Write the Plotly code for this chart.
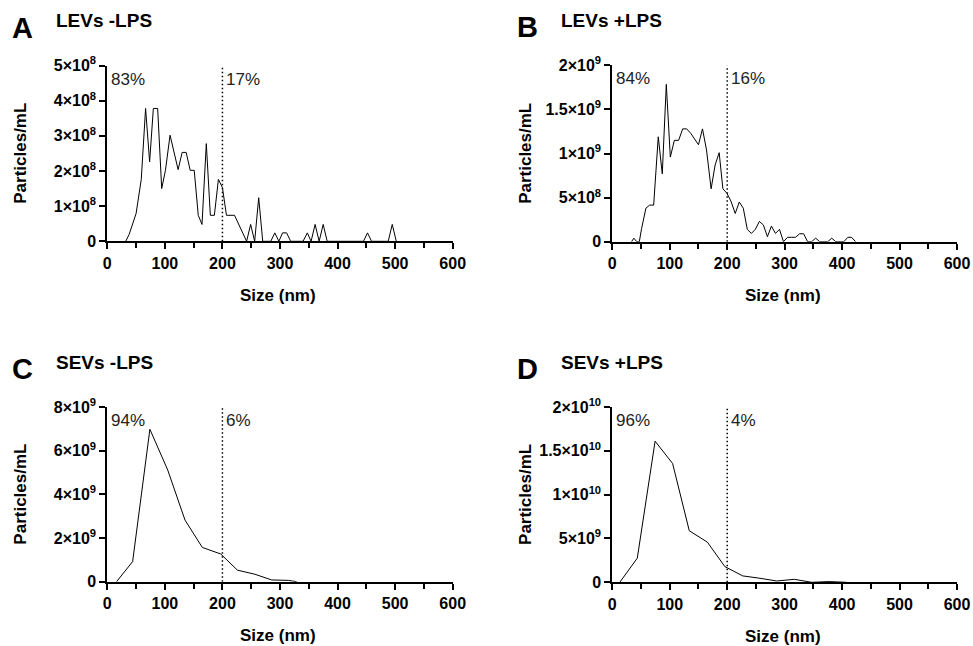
import plotly.graph_objects as go

# NTA size distributions (size in nm, particles/mL)
a_size = [32, 38, 50, 59, 66.5, 73.5, 80, 87.5, 94.5, 101, 109, 123, 130, 137, 144, 151, 158, 164.5,
          172, 179, 186, 193, 200, 207, 221, 242, 249, 256, 263, 270, 284, 291, 298, 304.5, 311.5,
          318.5, 340, 347.5, 354, 361, 368, 375, 382, 445, 452, 459, 488, 495, 502]
a_conc = [0, 0.2e8, 0.79e8, 1.76e8, 3.78e8, 2.26e8, 3.78e8, 3.78e8, 1.5e8, 2.02e8, 3.02e8, 2.04e8,
          2.53e8, 2.53e8, 2.02e8, 2.02e8, 0.74e8, 0.48e8, 2.78e8, 0.74e8, 0.74e8, 1.76e8, 1.53e8,
          0.74e8, 0.74e8, 0, 0.48e8, 0, 1.24e8, 0, 0, 0.24e8, 0, 0.24e8, 0.24e8, 0, 0, 0.24e8, 0,
          0.48e8, 0, 0.48e8, 0, 0, 0.24e8, 0, 0, 0.48e8, 0]

b_size = [33.5, 37.5, 42.5, 47, 51, 58.5, 65, 72, 80, 87, 94, 101, 108, 115.5, 122.5, 129.5, 136.5,
          143, 150, 157, 164, 172, 179, 186, 192.5, 199.5, 206.5, 214, 221, 228, 235, 242, 249, 256,
          263, 270, 277, 284, 291, 298, 305, 312, 319, 326, 333, 340, 347, 354, 361, 375, 382, 389,
          403, 410, 416.5, 423.5]
b_conc = [0, 0.4e8, 0, 0, 1.5e8, 3.8e8, 4.15e8, 4.15e8, 1.19e9, 7.7e8, 1.785e9, 9.6e8, 1.15e9,
          1.15e9, 1.28e9, 1.28e9, 1.23e9, 1.16e9, 1.1e9, 1.28e9, 1.04e9, 6.0e8, 8.7e8, 1.01e9, 6.0e8,
          5.5e8, 4.6e8, 3.2e8, 4.5e8, 3.8e8, 1.4e8, 0.94e8, 1.4e8, 2.3e8, 1.9e8, 0.57e8, 1.77e8,
          0.94e8, 1.4e8, 0, 0.5e8, 0.5e8, 0.5e8, 0.9e8, 0.9e8, 0, 0, 0.4e8, 0, 0, 0.4e8, 0, 0,
          0.5e8, 0.5e8, 0]

c_size = [16, 44, 74, 105, 135, 165, 197, 226, 256.5, 285.5, 314.5, 329]
c_conc = [0, 0.92e9, 6.98e9, 5.11e9, 2.82e9, 1.57e9, 1.27e9, 0.53e9, 0.34e9, 0.08e9, 0.06e9, 0]

d_size = [13, 43.5, 74.5, 105, 134, 165.5, 196, 227, 257, 286, 317, 347, 377, 408]
d_conc = [0, 2.75e9, 1.61e10, 1.355e10, 5.88e9, 4.58e9, 1.79e9, 0.73e9, 0.46e9, 0.15e9, 0.34e9,
          0, 0.08e9, 0]

letters = ["A", "B", "C", "D"]
titles = ["LEVs -LPS", "LEVs +LPS", "SEVs -LPS", "SEVs +LPS"]
below = ["83%", "84%", "94%", "96%"]
above = ["17%", "16%", "6%", "4%"]

a_ticks = [0, 1e8, 2e8, 3e8, 4e8, 5e8]
a_text = ["0", "1×10<sup>8</sup>", "2×10<sup>8</sup>", "3×10<sup>8</sup>", "4×10<sup>8</sup>", "5×10<sup>8</sup>"]
b_ticks = [0, 5e8, 1e9, 1.5e9, 2e9]
b_text = ["0", "5×10<sup>8</sup>", "1×10<sup>9</sup>", "1.5×10<sup>9</sup>", "2×10<sup>9</sup>"]
c_ticks = [0, 2e9, 4e9, 6e9, 8e9]
c_text = ["0", "2×10<sup>9</sup>", "4×10<sup>9</sup>", "6×10<sup>9</sup>", "8×10<sup>9</sup>"]
d_ticks = [0, 5e9, 1e10, 1.5e10, 2e10]
d_text = ["0", "5×10<sup>9</sup>", "1×10<sup>10</sup>", "1.5×10<sup>10</sup>", "2×10<sup>10</sup>"]

sizes = [a_size, b_size, c_size, d_size]
concs = [a_conc, b_conc, c_conc, d_conc]
yticks = [a_ticks, b_ticks, c_ticks, d_ticks]
ytexts = [a_text, b_text, c_text, d_text]

W, H = 973, 646
FONT = "Arial, Liberation Sans, sans-serif"
# pixel boxes of each plot area: left, right, top, bottom
boxes = [(107.3, 452.7, 65.6, 241.3), (612.3, 957, 65.4, 241.7),
         (107.3, 452.7, 407, 581.7), (612.3, 957, 407, 582.3)]

fig = go.Figure()
annotations = []
shapes = []
layout = {}

for i in range(4):
    n = "" if i == 0 else str(i + 1)
    xa, ya = "x" + n, "y" + n
    left, right, top, bottom = boxes[i]
    ymax = yticks[i][-1]

    fig.add_trace(go.Scatter(x=sizes[i], y=concs[i], mode="lines", xaxis=xa, yaxis=ya,
                             line=dict(color="black", width=1), showlegend=False))

    layout["xaxis" + n] = dict(
        domain=[left / W, right / W], anchor=ya, range=[0, 600], showgrid=False, zeroline=False,
        automargin=False, showline=True, linecolor="black", linewidth=2, ticks="outside",
        ticklen=6, tickwidth=2, tickcolor="black", tickvals=[0, 100, 200, 300, 400, 500, 600],
        minor=dict(tickvals=[50, 150, 250, 350, 450, 550], ticks="outside", ticklen=5, tickwidth=2,
                   tickcolor="black"),
        tickfont=dict(family=FONT, size=16, color="black", weight="bold"))
    layout["yaxis" + n] = dict(
        domain=[1 - bottom / H, 1 - top / H], anchor=xa, range=[0, ymax], showgrid=False,
        zeroline=False, automargin=False, showline=True, linecolor="black", linewidth=2,
        ticks="outside", ticklen=6, tickwidth=2, tickcolor="black", tickvals=yticks[i],
        ticktext=ytexts[i], tickfont=dict(family=FONT, size=16, color="black", weight="bold"))

    # dotted 200 nm cut-off
    shapes.append(dict(type="line", xref=xa, yref=ya, x0=200, x1=200, y0=0, y1=ymax,
                       line=dict(color="black", width=1.5, dash="1.5px,2.5px")))

    annotations += [
        dict(text=below[i], xref=xa, yref=ya, x=3, y=ymax, xanchor="left", yanchor="top",
             yshift=-2, showarrow=False, font=dict(family=FONT, size=17, color="#222")),
        dict(text=above[i], xref=xa, yref=ya, x=203, y=ymax, xanchor="left", yanchor="top",
             yshift=-2, showarrow=False, font=dict(family=FONT, size=17, color="#222")),
        dict(text=letters[i], xref="paper", yref="paper", x=(left - 97) / W, y=1 - (top - 38) / H,
             xanchor="left", yanchor="middle", showarrow=False,
             font=dict(family=FONT, size=29, color="black", weight="bold")),
        dict(text=titles[i], xref="paper", yref="paper", x=(left - 53) / W, y=1 - (top - 45) / H,
             xanchor="left", yanchor="middle", showarrow=False,
             font=dict(family=FONT, size=19, color="black", weight="bold")),
        dict(text="Particles/mL", xref="paper", yref="paper", x=(left - 87) / W,
             y=1 - ((top + bottom) / 2) / H, textangle=-90, xanchor="center", yanchor="middle",
             showarrow=False, font=dict(family=FONT, size=17, color="black", weight="bold")),
        dict(text="Size (nm)", xref="paper", yref="paper", x=((left + right) / 2 - 2) / W,
             y=1 - (bottom + 54) / H, xanchor="center", yanchor="middle", showarrow=False,
             font=dict(family=FONT, size=17, color="black", weight="bold")),
    ]

fig.update_layout(width=W, height=H, margin=dict(l=0, r=0, t=0, b=0), plot_bgcolor="white",
                  paper_bgcolor="white", annotations=annotations, shapes=shapes, **layout)

# drop the default page margin so the figure fills the window exactly
fig.write_html("out.html", config={"displayModeBar": False},
               post_script="document.body.style.margin = '0';")
